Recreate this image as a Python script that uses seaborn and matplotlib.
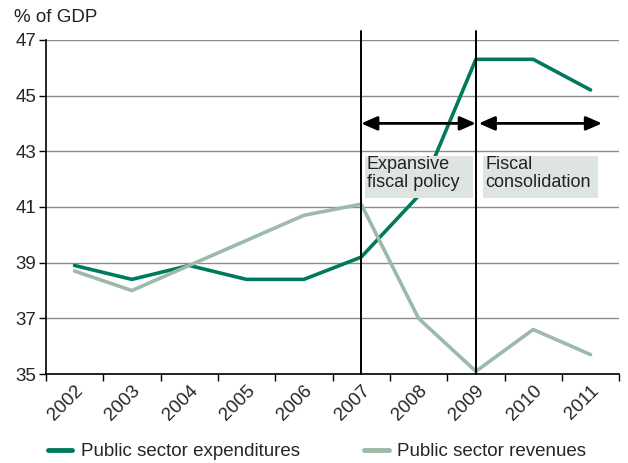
import numpy as np
import pandas as pd
import matplotlib
matplotlib.use("Agg")
import matplotlib.pyplot as plt
import seaborn as sns
from matplotlib.patches import Rectangle

years = ["2002", "2003", "2004", "2005", "2006", "2007", "2008", "2009", "2010", "2011"]
expenditures = [38.9, 38.4, 38.9, 38.4, 38.4, 39.2, 41.4, 46.3, 46.3, 45.2]
revenues = [38.7, 38.0, 38.9, 39.8, 40.7, 41.1, 37.0, 35.1, 36.6, 35.7]
series_names = ["Public sector expenditures", "Public sector revenues"]
colors = ["#007A5C", "#9DB9AA"]
y_ticks = [35, 37, 39, 41, 43, 45, 47]
phase_labels = ["Expansive\nfiscal policy", "Fiscal\nconsolidation"]

sns.set_theme(style="white")
plt.rcParams["font.family"] = ["Liberation Sans", "DejaVu Sans"]

FS = 13.5

idx = np.arange(len(years))
df = pd.DataFrame({
    "idx": np.concatenate([idx, idx]),
    "value": expenditures + revenues,
    "series": [series_names[0]] * len(years) + [series_names[1]] * len(years),
})

fig = plt.figure(figsize=(6.28, 4.63), dpi=100)
ax = fig.add_axes([0.073, 0.192, 0.913, 0.722])

# gridlines
for v in y_ticks:
    ax.axhline(v, color="#8c8c8c", lw=1.0, zorder=0)

sns.lineplot(data=df, x="idx", y="value", hue="series", hue_order=series_names,
             palette=colors, linewidth=2.6, ax=ax, legend=True, zorder=3)

ax.set_xlim(-0.5, len(years) - 0.5)
ax.set_ylim(35, 47)
ax.set_yticks(y_ticks)
ax.set_yticklabels([str(v) for v in y_ticks], fontsize=FS)
ax.set_xticks(np.arange(-0.5, len(years), 1.0))
ax.set_xticklabels([])
ax.set_xticks(idx, minor=True)
ax.set_xticklabels(years, minor=True, rotation=45, ha="right", va="top",
                   rotation_mode="anchor", fontsize=FS)
ax.tick_params(axis="x", which="major", length=5, width=1, color="black", direction="out", bottom=True)
ax.tick_params(axis="x", which="minor", length=0, pad=6)
ax.tick_params(axis="y", length=5, width=1, color="black", direction="out", left=True, pad=2)
ax.set_xlabel("")
ax.set_ylabel("")
for s in ["top", "right"]:
    ax.spines[s].set_visible(False)
for s in ["left", "bottom"]:
    ax.spines[s].set_color("black")
    ax.spines[s].set_linewidth(1.2)

# vertical markers at 2007 and 2009
for xv in [5, 7]:
    ax.plot([xv, xv], [35, 47.3], color="black", lw=1.4, zorder=4, clip_on=False)

# arrows
arrow_kw = dict(arrowstyle="<|-|>,head_length=0.8,head_width=0.35", color="black", lw=2.0,
                shrinkA=0, shrinkB=0)
ax.annotate("", xy=(7.0, 44.0), xytext=(5.0, 44.0), arrowprops=arrow_kw, zorder=5)
ax.annotate("", xy=(9.2, 44.0), xytext=(7.05, 44.0), arrowprops=arrow_kw, zorder=5)

# phase label boxes
box_face = "#DEE4E0"
ax.add_patch(Rectangle((5.07, 41.32), 1.88, 1.51, facecolor=box_face, edgecolor="none", zorder=5))
ax.add_patch(Rectangle((7.13, 41.32), 2.0, 1.51, facecolor=box_face, edgecolor="none", zorder=5))
ax.text(5.1, 42.83, phase_labels[0], ha="left", va="top", fontsize=13, color="#222222",
        linespacing=1.05, zorder=6)
ax.text(7.16, 42.83, phase_labels[1], ha="left", va="top", fontsize=13, color="#222222",
        linespacing=1.05, zorder=6)

fig.text(0.022, 0.962, "% of GDP", ha="left", va="center", fontsize=FS, color="#222222")

# legend
handles, labels = ax.get_legend_handles_labels()
ax.get_legend().remove()
for h in handles:
    h.set_linewidth(3.5)
fig.legend(handles, labels, loc="center left", bbox_to_anchor=(0.076, 0.024), ncol=2,
           frameon=False, fontsize=FS, handlelength=1.3, handletextpad=0.45,
           columnspacing=3.45, borderaxespad=0, borderpad=0)

fig.savefig("out.png", dpi=100)
